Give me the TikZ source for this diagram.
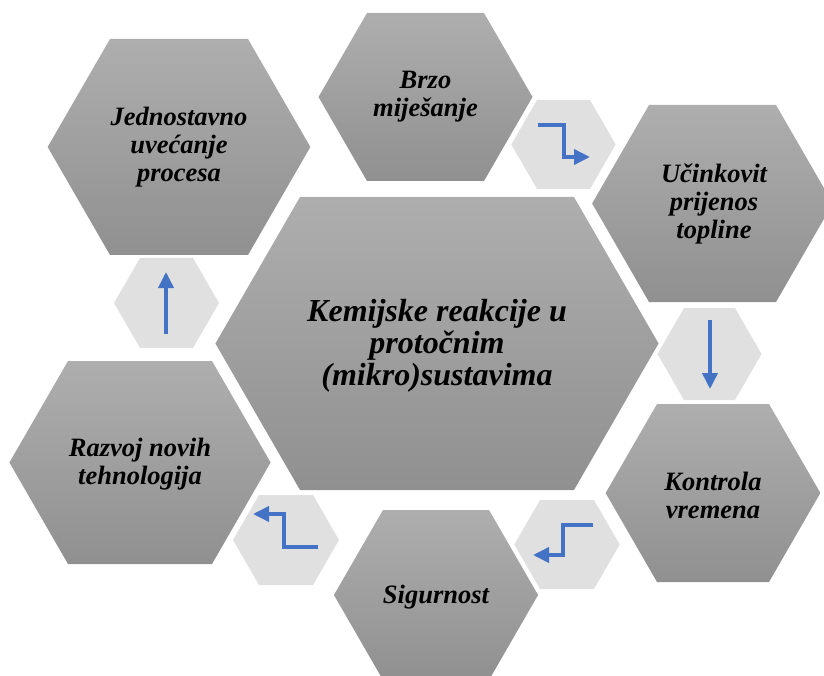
\documentclass[tikz,border=0pt]{standalone}
\usepackage{fontspec}
\setmainfont{Liberation Serif}
\usetikzlibrary{arrows.meta}

\definecolor{hextop}{RGB}{174,174,174}
\definecolor{hexbottom}{RGB}{144,144,144}
\definecolor{hexpale}{RGB}{224,224,224}
\definecolor{flowblue}{RGB}{68,114,196}

\tikzset{
  bighex/.style={top color=hextop, bottom color=hexbottom, draw=none},
  palehex/.style={fill=hexpale, draw=none},
  hexlabel/.style={align=center, text=black, font=\bfseries\itshape\fontsize{26.5}{28}\selectfont},
  centrelabel/.style={align=center, text=black, font=\bfseries\itshape\fontsize{32}{32}\selectfont},
  flowarrow/.style={draw=flowblue, line width=3.6pt, -{Triangle[length=16pt,width=15pt]}}
}

% #1 style, (#2,#3) centre, #4 half of top edge, #5 half height
\newcommand{\hexagon}[5]{%
  \path[#1] ({#2-#4-#5/sqrt(3)},#3) -- ({#2-#4},{#3-#5}) -- ({#2+#4},{#3-#5})
    -- ({#2+#4+#5/sqrt(3)},#3) -- ({#2+#4},{#3+#5}) -- ({#2-#4},{#3+#5}) -- cycle;}

\begin{document}
\begin{tikzpicture}[x=1pt,y=-1pt]

  \useasboundingbox (0,0) rectangle (824,676);

  \begin{scope}
    \clip (0,0) rectangle (824,676);
    \hexagon{bighex}{425.5}{97}{58.5}{84}
    \hexagon{bighex}{179}{147}{69}{108}
    \hexagon{bighex}{712.5}{203.5}{63.5}{98.5}
    \hexagon{bighex}{713}{493}{56}{89}
    \hexagon{bighex}{436}{595}{53}{85}
    \hexagon{bighex}{140}{462.5}{72}{101.5}
    \hexagon{bighex}{437}{343.5}{137}{146.5}

    \hexagon{palehex}{563.5}{144.5}{26.5}{44.5}
    \hexagon{palehex}{709.5}{354}{25.5}{46}
    \hexagon{palehex}{567}{544.5}{27}{44.5}
    \hexagon{palehex}{286}{540}{27}{45}
    \hexagon{palehex}{166.5}{303}{26.5}{45}
  \end{scope}

  \node[hexlabel] (brzo) at (425.5,97) {Brzo\\miješanje};
  \node[hexlabel] (uvecanje) at (179,147) {Jednostavno\\uvećanje\\procesa};
  \node[hexlabel] (prijenos) at (714,204) {Učinkovit\\prijenos\\topline};
  \node[hexlabel] (kontrola) at (713,495) {Kontrola\\vremena};
  \node[hexlabel] (sigurnost) at (436,597) {Sigurnost};
  \node[hexlabel] (razvoj) at (140,464) {Razvoj novih\\tehnologija};
  \node[centrelabel] (kemija) at (437,346) {Kemijske reakcije u\\protočnim\\(mikro)sustavima};

  \draw[flowarrow] (538,125) -| (564,157) -- (590,157);
  \draw[flowarrow] (710,320) -- (710,389);
  \draw[flowarrow] (593,525) -| (563,555) -- (533,555);
  \draw[flowarrow] (318,547) -| (284,514) -- (253,514);
  \draw[flowarrow] (166,334) -- (166,272);

\end{tikzpicture}
\end{document}
